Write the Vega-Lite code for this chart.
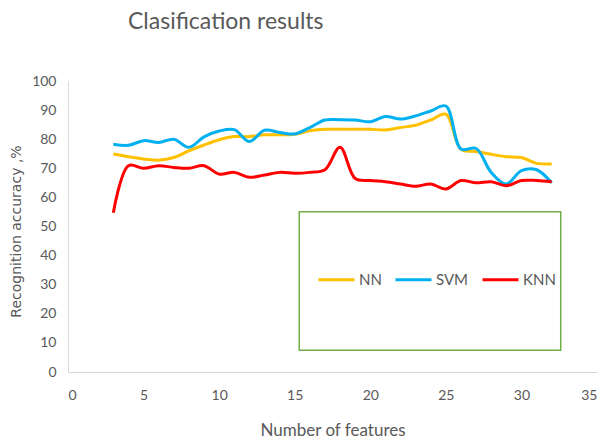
{
  "$schema": "https://vega.github.io/schema/vega-lite/v6.json",
  "width": 529,
  "height": 291,
  "autosize": {"type": "none"},
  "padding": {"left": 68, "top": 81, "right": 7, "bottom": 67},
  "background": "white",
  "config": {
    "font": "Lato",
    "view": {"stroke": null},
    "axis": {"labelFont": "Lato", "titleFont": "Lato", "labelColor": "#595959", "titleColor": "#595959", "gridColor": "#D9D9D9", "domainColor": "#D9D9D9", "ticks": false, "labelFontSize": 14, "titleFontSize": 17, "titleFontWeight": "normal"}
  },
  "title": {"text": "Clasification results", "anchor": "start", "frame": "group", "dx": 60, "offset": 40, "fontSize": 23, "font": "Lato", "fontWeight": "normal", "color": "#595959"},
  "layer": [
    {
      "data": {"values": [{"a": 1}]},
      "mark": {"type": "rect", "fill": "white", "stroke": "#70AD47", "strokeWidth": 1.5},
      "encoding": {
        "x": {"datum": 15.3, "type": "quantitative", "scale": {"domain": [0, 35], "nice": false}, "axis": {"values": [0, 5, 10, 15, 20, 25, 30, 35], "title": "Number of features", "labelPadding": 16, "titlePadding": 20}},
        "x2": {"datum": 32.6},
        "y": {"datum": 55.1, "type": "quantitative", "scale": {"domain": [0, 100], "nice": false}, "axis": {"values": [0, 10, 20, 30, 40, 50, 60, 70, 80, 90, 100], "title": "Recognition accuracy ,%", "titleFont": "DejaVu Sans", "titleFontSize": 14, "labelPadding": 12, "titlePadding": 8, "titleY": 150}},
        "y2": {"datum": 7.5}
      }
    },
    {
      "data": {"values": [
        {"x": 3, "model": "NN", "acc": 74.9}, {"x": 4, "model": "NN", "acc": 74}, {"x": 5, "model": "NN", "acc": 73.2}, {"x": 6, "model": "NN", "acc": 72.8}, {"x": 7, "model": "NN", "acc": 73.7}, {"x": 8, "model": "NN", "acc": 76}, {"x": 9, "model": "NN", "acc": 78}, {"x": 10, "model": "NN", "acc": 79.8}, {"x": 11, "model": "NN", "acc": 80.9}, {"x": 12, "model": "NN", "acc": 80.9}, {"x": 13, "model": "NN", "acc": 81.5}, {"x": 14, "model": "NN", "acc": 81.5}, {"x": 15, "model": "NN", "acc": 81.7}, {"x": 16, "model": "NN", "acc": 82.9}, {"x": 17, "model": "NN", "acc": 83.4}, {"x": 18, "model": "NN", "acc": 83.4}, {"x": 19, "model": "NN", "acc": 83.4}, {"x": 20, "model": "NN", "acc": 83.4}, {"x": 21, "model": "NN", "acc": 83.2}, {"x": 22, "model": "NN", "acc": 84}, {"x": 23, "model": "NN", "acc": 84.8}, {"x": 24, "model": "NN", "acc": 86.6}, {"x": 25, "model": "NN", "acc": 88.6}, {"x": 26, "model": "NN", "acc": 76.5}, {"x": 27, "model": "NN", "acc": 75.8}, {"x": 28, "model": "NN", "acc": 74.8}, {"x": 29, "model": "NN", "acc": 74}, {"x": 30, "model": "NN", "acc": 73.7}, {"x": 31, "model": "NN", "acc": 71.7}, {"x": 32, "model": "NN", "acc": 71.5},
        {"x": 3, "model": "SVM", "acc": 78.3}, {"x": 4, "model": "SVM", "acc": 77.9}, {"x": 5, "model": "SVM", "acc": 79.5}, {"x": 6, "model": "SVM", "acc": 78.9}, {"x": 7, "model": "SVM", "acc": 80}, {"x": 8, "model": "SVM", "acc": 77.2}, {"x": 9, "model": "SVM", "acc": 80.8}, {"x": 10, "model": "SVM", "acc": 82.8}, {"x": 11, "model": "SVM", "acc": 83.3}, {"x": 12, "model": "SVM", "acc": 79.2}, {"x": 13, "model": "SVM", "acc": 83.1}, {"x": 14, "model": "SVM", "acc": 82.3}, {"x": 15, "model": "SVM", "acc": 81.8}, {"x": 16, "model": "SVM", "acc": 84}, {"x": 17, "model": "SVM", "acc": 86.6}, {"x": 18, "model": "SVM", "acc": 86.7}, {"x": 19, "model": "SVM", "acc": 86.6}, {"x": 20, "model": "SVM", "acc": 86}, {"x": 21, "model": "SVM", "acc": 87.8}, {"x": 22, "model": "SVM", "acc": 86.9}, {"x": 23, "model": "SVM", "acc": 88}, {"x": 24, "model": "SVM", "acc": 89.7}, {"x": 25, "model": "SVM", "acc": 91.4}, {"x": 26, "model": "SVM", "acc": 76.6}, {"x": 27, "model": "SVM", "acc": 76.8}, {"x": 28, "model": "SVM", "acc": 68.6}, {"x": 29, "model": "SVM", "acc": 64.6}, {"x": 30, "model": "SVM", "acc": 69.2}, {"x": 31, "model": "SVM", "acc": 69.5}, {"x": 32, "model": "SVM", "acc": 65},
        {"x": 3, "model": "KNN", "acc": 54.7}, {"x": 4, "model": "KNN", "acc": 70.9}, {"x": 5, "model": "KNN", "acc": 70}, {"x": 6, "model": "KNN", "acc": 70.9}, {"x": 7, "model": "KNN", "acc": 70.3}, {"x": 8, "model": "KNN", "acc": 70}, {"x": 9, "model": "KNN", "acc": 70.9}, {"x": 10, "model": "KNN", "acc": 68}, {"x": 11, "model": "KNN", "acc": 68.6}, {"x": 12, "model": "KNN", "acc": 66.9}, {"x": 13, "model": "KNN", "acc": 67.7}, {"x": 14, "model": "KNN", "acc": 68.6}, {"x": 15, "model": "KNN", "acc": 68.3}, {"x": 16, "model": "KNN", "acc": 68.6}, {"x": 17, "model": "KNN", "acc": 69.5}, {"x": 18, "model": "KNN", "acc": 77.2}, {"x": 19, "model": "KNN", "acc": 66.5}, {"x": 20, "model": "KNN", "acc": 65.8}, {"x": 21, "model": "KNN", "acc": 65.4}, {"x": 22, "model": "KNN", "acc": 64.6}, {"x": 23, "model": "KNN", "acc": 63.8}, {"x": 24, "model": "KNN", "acc": 64.6}, {"x": 25, "model": "KNN", "acc": 62.9}, {"x": 26, "model": "KNN", "acc": 65.8}, {"x": 27, "model": "KNN", "acc": 65}, {"x": 28, "model": "KNN", "acc": 65.4}, {"x": 29, "model": "KNN", "acc": 64}, {"x": 30, "model": "KNN", "acc": 65.8}, {"x": 31, "model": "KNN", "acc": 65.8}, {"x": 32, "model": "KNN", "acc": 65.4}
      ]},
      "mark": {"type": "line", "interpolate": "catmull-rom", "strokeWidth": 3},
      "encoding": {
        "x": {"field": "x", "type": "quantitative", "scale": {"domain": [0, 35], "nice": false}, "axis": {"values": [0, 5, 10, 15, 20, 25, 30, 35], "title": "Number of features", "labelPadding": 16, "titlePadding": 20}},
        "y": {"field": "acc", "type": "quantitative", "scale": {"domain": [0, 100], "nice": false}, "axis": {"values": [0, 10, 20, 30, 40, 50, 60, 70, 80, 90, 100], "title": "Recognition accuracy ,%", "titleFont": "DejaVu Sans", "titleFontSize": 14, "labelPadding": 12, "titlePadding": 8, "titleY": 150}},
        "color": {"field": "model", "type": "nominal", "sort": ["NN", "SVM", "KNN"], "scale": {"domain": ["NN", "SVM", "KNN"], "range": ["#FFC000", "#00B0F0", "#FF0000"]},
          "legend": {"title": null, "orient": "none", "legendX": 249, "legendY": 179, "direction": "horizontal", "symbolType": "stroke", "symbolSize": 1296, "symbolStrokeWidth": 3, "labelFontSize": 15, "labelColor": "#595959", "labelFont": "Lato", "labelOffset": 3, "columnPadding": 7, "padding": 0}}
      }
    }
  ]
}
